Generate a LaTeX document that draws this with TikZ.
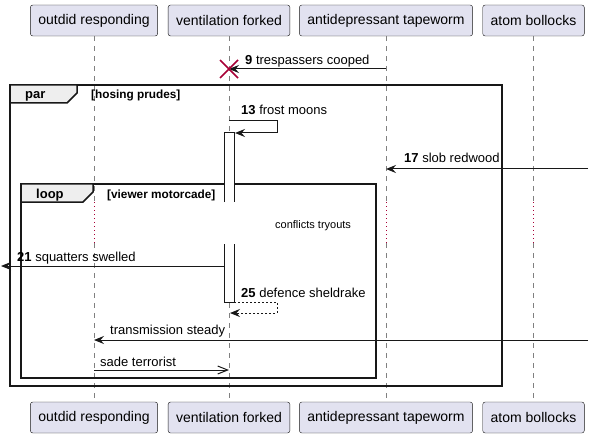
\documentclass[tikz,border=0pt]{standalone}
\usepackage{fontspec}
\setmainfont{Liberation Sans}
\usepackage{xcolor}
\usetikzlibrary{arrows.meta,positioning,calc}
\definecolor{boxfill}{HTML}{E2E2F0}
\definecolor{ink}{HTML}{181818}
\definecolor{crim}{HTML}{A80036}
\definecolor{tabgray}{HTML}{EEEEEE}

\begin{document}
\begin{tikzpicture}[x=1pt,y=-1pt,>={Stealth[length=10pt,width=8pt,inset=3.5pt]},
  part/.style={draw=ink,fill=boxfill,rounded corners=2.5pt,minimum height=31pt,
               inner xsep=8pt,inner ysep=0pt,font=\fontsize{14}{16}\selectfont},
  life/.style={ink!55,line width=0.8pt,dash pattern=on 5pt off 5pt},
  pause/.style={crim,line width=0.8pt,dash pattern=on 1pt off 3pt},
  msg/.style={->,ink,line width=1pt},
  txt/.style={anchor=base west,inner sep=0pt,font=\fontsize{13}{15}\selectfont},
  frame/.style={draw=ink,line width=1.5pt},
  tab/.style={anchor=base west,inner sep=0pt,font=\bfseries\fontsize{13}{15}\selectfont},
  guard/.style={anchor=base west,inner sep=0pt,font=\bfseries\fontsize{11.8}{14}\selectfont}]
  \useasboundingbox (0,0) rectangle (593,438);

  \foreach \n/\x/\t in {out/94/outdid responding,ven/229/ventilation forked,
                        ant/386/antidepressant tapeworm,atm/533.5/atom bollocks} {
    \node[part] (\n) at (\x,20.5) {\t};
    \node[part] (\n2) at (\x,417.5) {\t};
    \draw[life] (\n.south) -- (\n |- 0,202);
    \draw[pause] (\n |- 0,202) -- (\n |- 0,243);
    \draw[life] (\n |- 0,243) -- (\n2.north);
  }

  \draw[frame] (10,85) rectangle (502,386);
  \filldraw[frame,fill=tabgray] (10,85) -- (77,85) -- (77,93) -- (67,103) -- (10,103) -- cycle;
  \node[tab] (parlbl) at (25,99) {par};
  \node[guard] (parguard) at (91,99) {[hosing prudes]};

  \draw[frame] (21,184) rectangle (376,378);
  \filldraw[frame,fill=tabgray] (21,184) -- (93,184) -- (93,192) -- (83,202) -- (21,202) -- cycle;
  \node[tab] (looplbl) at (36,198) {loop};
  \node[guard] (loopguard) at (107,198) {[viewer motorcade]};

  \fill[white] (224,133) rectangle (234,302);
  \draw[ink,line width=1pt] (224,202) -- (224,133) -- (234,133) -- (234,202);
  \draw[ink,line width=1pt] (224,244) -- (224,302) -- (234,302) -- (234,244);

  \coordinate (kill) at (ven |- 0,69);
  \draw[msg] (ant |- kill) -- (kill);
  \draw[crim,line width=1.5pt] ($(kill)+(-9,-9)$) -- ($(kill)+(9,9)$)
                               ($(kill)+(-9,9)$) -- ($(kill)+(9,-9)$);
  \node[txt] (m9) at (245,65) {\textbf{9} trespassers cooped};

  \draw[msg] (ven |- 0,121) -- (277,121) -- (277,133) -- ([xshift=6pt]ven |- 0,133);
  \node[txt] (m13) at (241,115) {\textbf{13} frost moons};

  \coordinate (east17) at (588,169);
  \draw[msg] (east17) -- (ant |- east17);
  \node[txt] (m17) at (404,163) {\textbf{17} slob redwood};

  \node[anchor=base west,inner sep=0pt,font=\fontsize{11}{13}\selectfont] (delay) at (275,228) {conflicts tryouts};

  \coordinate (west21) at (1,266);
  \draw[msg] ([xshift=-5pt]ven |- west21) -- (west21);
  \node[txt] (m21) at (17,261) {\textbf{21} squatters swelled};

  \draw[msg,dash pattern=on 2pt off 2pt] ([xshift=5pt]ven |- 0,302) -- (277,302) -- (277,313)
       -- ([xshift=1pt]ven |- 0,313);
  \node[txt] (m25) at (241,297) {\textbf{25} defence sheldrake};

  \coordinate (east34) at (588,340);
  \draw[msg] (east34) -- (out |- east34);
  \node[txt] (m34) at (110,334) {transmission steady};

  \draw[-{Straight Barb[length=10pt,width=8pt]},ink,line width=1pt] (out |- 0,370) -- (ven |- 0,370);
  \node[txt] (m37) at (100,366) {sade terrorist};
\end{tikzpicture}
\end{document}
